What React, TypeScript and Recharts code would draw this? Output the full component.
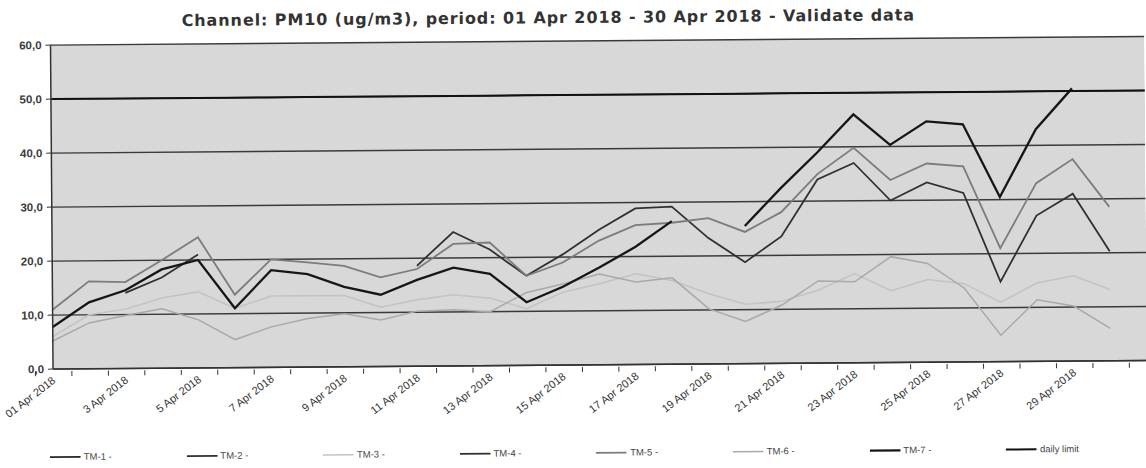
import { CartesianGrid, Legend, Line, LineChart, XAxis, YAxis } from "recharts";

const days = [
  "01 Apr 2018", "2 Apr 2018", "3 Apr 2018", "4 Apr 2018", "5 Apr 2018",
  "6 Apr 2018", "7 Apr 2018", "8 Apr 2018", "9 Apr 2018", "10 Apr 2018",
  "11 Apr 2018", "12 Apr 2018", "13 Apr 2018", "14 Apr 2018", "15 Apr 2018",
  "16 Apr 2018", "17 Apr 2018", "18 Apr 2018", "19 Apr 2018", "20 Apr 2018",
  "21 Apr 2018", "22 Apr 2018", "23 Apr 2018", "24 Apr 2018", "25 Apr 2018",
  "26 Apr 2018", "27 Apr 2018", "28 Apr 2018", "29 Apr 2018", "30 Apr 2018",
  "",
];

const yTicks = [0, 10, 20, 30, 40, 50, 60];

// TM-1 and TM-2 have no readings in this period
const tm1: (number | null)[] = [];
const tm2: (number | null)[] = [];
const tm3 = [
  6.0, 10.0, 11.0, 13.0, 14.1, 11.0, 13.2, 13.2, 13.2, 11.0,
  12.3, 13.2, 12.5, 10.5, 13.5, 15.0, 16.8, 15.5, 13.0, 11.0,
  11.5, 13.5, 16.5, 13.3, 15.3, 14.5, 11.0, 14.5, 15.8, 13.2,
];
const tm4 = [
  null, null, 14.0, 16.8, 21.0, null, null, null, null, null,
  18.6, 24.8, 21.5, 16.6, 20.5, 25.0, 28.9, 29.2, 23.3, 18.8,
  23.5, 34.0, 37.0, 30.0, 33.3, 31.3, 14.8, 27.0, 31.0, 20.3,
];
const tm5 = [
  11.0, 16.2, 16.0, 20.0, 24.2, 13.5, 20.0, 19.4, 18.7, 16.5,
  18.0, 22.6, 22.8, 16.6, 19.0, 23.0, 25.8, 26.2, 27.0, 24.4,
  28.0, 35.0, 39.8, 33.8, 36.8, 36.2, 21.0, 33.0, 37.4, 28.5,
];
const tm6 = [
  5.2, 8.5, 9.8, 11.0, 8.9, 5.2, 7.5, 9.0, 9.8, 8.6,
  10.2, 10.4, 10.0, 13.5, 15.0, 16.8, 15.3, 16.0, 10.2, 7.8,
  10.8, 15.2, 15.0, 19.6, 18.3, 13.7, 4.9, 11.4, 10.2, 6.0,
];
const tm7 = [
  7.8, 12.3, 14.5, 18.3, 20.0, 11.0, 18.0, 17.2, 14.8, 13.3,
  16.0, 18.2, 17.0, 11.7, 14.5, 18.0, 21.8, 26.5, null, 25.5,
  32.5, 39.0, 46.0, 40.3, 44.6, 44.0, 30.5, 43.0, 50.5, null,
];
const dailyLimit = [
  50, 50, 50, 50, 50, 50, 50, 50, 50, 50,
  50, 50, 50, 50, 50, 50, 50, 50, 50, 50,
  50, 50, 50, 50, 50, 50, 50, 50, 50, 50,
  50,
];

const series = [
  { key: "tm1", name: "TM-1 -", values: tm1, color: "#262626", width: 1.8 },
  { key: "tm2", name: "TM-2 -", values: tm2, color: "#2e2e2e", width: 1.8 },
  { key: "tm3", name: "TM-3 -", values: tm3, color: "#c3c3c3", width: 1.5 },
  { key: "tm4", name: "TM-4 -", values: tm4, color: "#303030", width: 1.8 },
  { key: "tm5", name: "TM-5 -", values: tm5, color: "#7c7c7c", width: 1.8 },
  { key: "tm6", name: "TM-6 -", values: tm6, color: "#a9a9a9", width: 1.5 },
  { key: "tm7", name: "TM-7 -", values: tm7, color: "#161616", width: 2.3 },
  { key: "limit", name: "daily limit", values: dailyLimit, color: "#111", width: 2 },
];

const data = days.map((day, i) => {
  const row: Record<string, string | number | null> = { day };
  series.forEach((s) => {
    row[s.key] = s.values[i] ?? null;
  });
  return row;
});

const W = 1146;
const H = 468;
const Y_AXIS_W = 52;
const STEP = (W - Y_AXIS_W) / days.length;
const FONT = "'Liberation Sans', Arial, sans-serif";

function DayTick(props: any) {
  const { x, y, payload, index } = props;
  const label = index % 2 === 0 ? payload.value : "";
  const lx = x + 3;
  const ly = y + 11;
  return (
    <g>
      <line x1={x - STEP / 2} x2={x - STEP / 2} y1={y} y2={y + 5} stroke="#333" />
      {label ? (
        <text
          x={lx}
          y={ly}
          textAnchor="end"
          transform={`rotate(-37 ${lx} ${ly})`}
          fontSize={11}
          fill="#333"
          fontFamily={FONT}
        >
          {label}
        </text>
      ) : null}
    </g>
  );
}

function LegendRow(props: any) {
  const payload = props.payload || [];
  return (
    <div style={{ position: "relative", width: W, height: 30 }}>
      {payload.map((p: any, i: number) => {
        const s = series.find((d) => d.key === p.dataKey);
        return (
          <div
            key={p.value}
            style={{
              position: "absolute",
              left: 48 + i * 136.6,
              top: 9,
              display: "flex",
              alignItems: "center",
              fontFamily: FONT,
              fontSize: 9.5,
              color: "#444",
            }}
          >
            <svg width={31} height={6}>
              <line x1={0} x2={31} y1={3} y2={3} stroke={p.color} strokeWidth={s ? s.width : 1.5} />
            </svg>
            <span style={{ marginLeft: 3 }}>{p.value}</span>
          </div>
        );
      })}
    </div>
  );
}

export default function App() {
  return (
    <div
      style={{
        position: "absolute",
        left: 0,
        top: 0,
        width: W,
        height: H,
        background: "#fff",
        overflow: "hidden",
        transform: "rotate(-0.45deg)",
      }}
    >
      <div
        style={{
          position: "absolute",
          top: 8,
          left: 0,
          width: 1100,
          textAlign: "center",
          fontFamily: "'DejaVu Sans', Verdana, sans-serif",
          fontWeight: "bold",
          fontSize: 16,
          letterSpacing: 0.9,
          color: "#333",
        }}
      >
        Channel: PM10 (ug/m3), period: 01 Apr 2018 - 30 Apr 2018 - Validate data
      </div>
      <LineChart
        width={W}
        height={H}
        data={data}
        margin={{ top: 41, right: 0, bottom: 0, left: 0 }}
      >
        <CartesianGrid vertical={false} stroke="#3a3a3a" strokeWidth={1.3} fill="#d8d8d8" />
        <XAxis
          dataKey="day"
          interval={0}
          tickSize={0}
          tickLine={false}
          axisLine={{ stroke: "#333", strokeWidth: 1.5 }}
          height={64}
          tick={(p: any) => <DayTick {...p} />}
        />
        <YAxis
          width={Y_AXIS_W}
          domain={[0, 60]}
          ticks={yTicks}
          interval={0}
          tickSize={5}
          tickMargin={4}
          tickFormatter={(v: number) => v.toFixed(1).replace(".", ",")}
          tick={{ fontSize: 11.5, fill: "#3a3a3a", fontFamily: FONT, fontWeight: "bold" }}
          tickLine={{ stroke: "#333" }}
          axisLine={{ stroke: "#333", strokeWidth: 1.5 }}
        />
        <Legend
          verticalAlign="bottom"
          content={(p: any) => <LegendRow {...p} />}
          wrapperStyle={{ left: 0, width: W }}
        />
        {series.map((s) => (
          <Line
            key={s.key}
            dataKey={s.key}
            name={s.name}
            type="linear"
            stroke={s.color}
            strokeWidth={s.width}
            dot={false}
            activeDot={false}
            isAnimationActive={false}
          />
        ))}
      </LineChart>
    </div>
  );
}
